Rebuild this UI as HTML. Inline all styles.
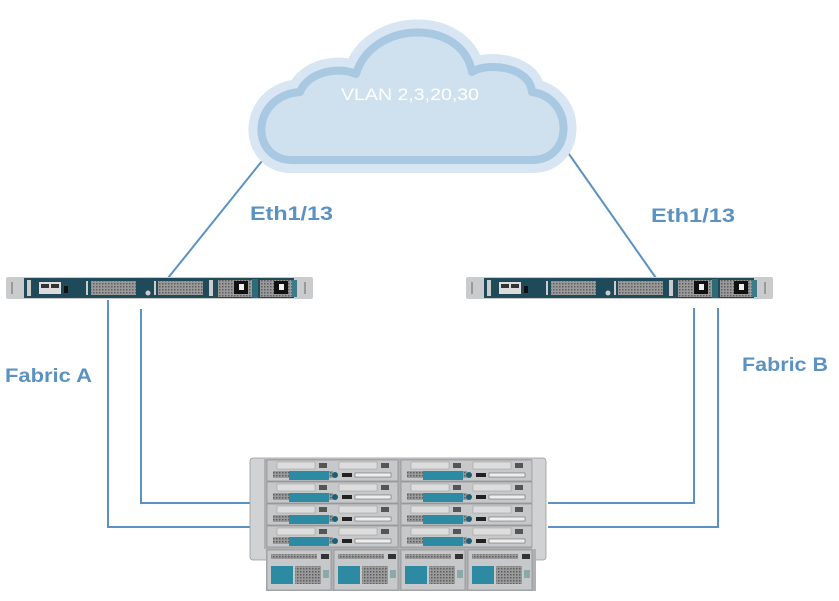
<!DOCTYPE html>
<html><head><meta charset="utf-8"><style>
html,body{margin:0;padding:0;background:#fff;}
svg{display:block;}
text{font-family:"Liberation Sans",sans-serif;}
</style></head><body>
<svg width="839" height="601" viewBox="0 0 839 601" xmlns="http://www.w3.org/2000/svg">
<defs>
<pattern id="mesh" width="3" height="3" patternUnits="userSpaceOnUse"><rect width="3" height="3" fill="#9a9a9a"/><rect width="1.5" height="1.5" fill="#5e5e5e"/></pattern>
<g id="sw">
  <rect x="0" y="0" width="307" height="22" rx="2" fill="#c9cbcc"/>
  <rect x="18" y="1" width="252" height="20" fill="#1e4a5a"/>
  <rect x="268" y="1" width="20" height="20" fill="#1e4a5a"/>
  <rect x="5" y="5" width="2" height="12" fill="#999"/><rect x="298" y="5" width="2" height="12" fill="#999"/>
  <rect x="21" y="3" width="4" height="16" fill="#ccc"/>
  <rect x="33" y="5" width="22" height="12" fill="#ddd"/>
  <rect x="35" y="7" width="8" height="4" fill="#333"/><rect x="45" y="7" width="8" height="4" fill="#333"/>
  <rect x="58" y="9" width="4" height="7" fill="#111"/>
  <rect x="80" y="4" width="2" height="14" fill="#ccc"/>
  <rect x="85" y="4" width="45" height="14" fill="url(#mesh)"/>
  <circle cx="142" cy="16" r="2.5" fill="#ccc"/>
  <rect x="148" y="4" width="2" height="14" fill="#ccc"/>
  <rect x="152" y="4" width="45" height="14" fill="url(#mesh)"/>
  <rect x="203" y="3" width="4" height="16" fill="#ccc"/>
  <rect x="212" y="3" width="34" height="17" fill="url(#mesh)"/>
  <rect x="228" y="4" width="14" height="13" fill="#111"/><rect x="233" y="7" width="5" height="6" fill="#eee"/>
  <rect x="246" y="2" width="6" height="19" fill="#2f6a78"/>
  <rect x="254" y="3" width="32" height="17" fill="url(#mesh)"/>
  <rect x="268" y="4" width="14" height="13" fill="#111"/><rect x="273" y="7" width="5" height="6" fill="#eee"/>
  <rect x="286" y="3" width="5" height="17" fill="#3d7b88"/>
</g>
<g id="blade">
  <rect x="0" y="0" width="131" height="21" fill="#c6c8ca" stroke="#888" stroke-width="0.6"/>
  <rect x="10" y="2" width="38" height="7" fill="#ddd" stroke="#999" stroke-width="0.5"/>
  <rect x="52" y="3" width="8" height="5" fill="#555"/>
  <rect x="72" y="2" width="38" height="7" fill="#ddd" stroke="#999" stroke-width="0.5"/>
  <rect x="114" y="3" width="8" height="5" fill="#555"/>
  <rect x="6" y="11" width="60" height="7" fill="url(#mesh)"/>
  <rect x="22" y="11" width="40" height="9" fill="#2d8aa3"/>
  <circle cx="68" cy="15" r="3" fill="#1c5f78"/>
  <rect x="75" y="13" width="10" height="4" fill="#222"/>
  <rect x="88" y="13" width="36" height="4" fill="#eee" stroke="#555" stroke-width="0.5"/>
</g>
<g id="psu">
  <rect x="0" y="0" width="64" height="40" fill="#c6c8ca" stroke="#888" stroke-width="0.6"/>
  <rect x="4" y="4" width="46" height="5" fill="url(#mesh)"/>
  <rect x="54" y="4" width="8" height="5" fill="#333"/>
  <rect x="4" y="16" width="22" height="18" fill="#2d8aa3"/>
  <rect x="28" y="16" width="26" height="18" fill="url(#mesh)"/>
  <rect x="56" y="20" width="6" height="8" fill="#8aa"/>
</g>
</defs>

<g stroke="#5b92c2" stroke-width="2" fill="none">
  <line x1="266" y1="156" x2="168" y2="278"/>
  <line x1="564" y1="147" x2="656" y2="278"/>
  <polyline points="108,300 108,527 252,527"/>
  <polyline points="141,309 141,503 252,503"/>
  <polyline points="694,308 694,503 548,503"/>
  <polyline points="718,308 718,527 548,527"/>
</g>

<g>
  <path d="M292 160 C250 160 250 96 300 92 C308 72 338 66 356 74 C372 20 462 18 472 72 C486 62 530 66 532 92 C574 98 574 160 532 160 Z" fill="#cfe1ee" stroke="#d7e6f2" stroke-width="26" stroke-linejoin="round"/>
  <path d="M292 160 C250 160 250 96 300 92 C308 72 338 66 356 74 C372 20 462 18 472 72 C486 62 530 66 532 92 C574 98 574 160 532 160 Z" fill="#cfe1ee" stroke="#a9c8e2" stroke-width="8" stroke-linejoin="round"/>
  <text x="341" y="100" font-size="17" fill="#ffffff" textLength="138" lengthAdjust="spacingAndGlyphs">VLAN 2,3,20,30</text>
</g>

<use href="#sw" x="6" y="277"/>
<use href="#sw" x="466" y="277"/>

<rect x="250" y="458" width="296" height="102" rx="3" fill="#d0d2d4" stroke="#999" stroke-width="0.8"/>
<rect x="264" y="459" width="268" height="90" fill="#aeb0b2"/>
<use href="#blade" x="267" y="460"/><use href="#blade" x="401" y="460"/>
<use href="#blade" x="267" y="482"/><use href="#blade" x="401" y="482"/>
<use href="#blade" x="267" y="504"/><use href="#blade" x="401" y="504"/>
<use href="#blade" x="267" y="526"/><use href="#blade" x="401" y="526"/>
<rect x="266" y="549" width="270" height="42" fill="#aeb0b2"/>
<use href="#psu" x="267" y="550"/><use href="#psu" x="334" y="550"/><use href="#psu" x="401" y="550"/><use href="#psu" x="468" y="550"/>

<g font-weight="bold" font-size="19" fill="#5b92c2">
  <text x="250" y="220" textLength="83" lengthAdjust="spacingAndGlyphs">Eth1/13</text>
  <text x="651" y="222" textLength="84" lengthAdjust="spacingAndGlyphs">Eth1/13</text>
  <text x="5" y="382" textLength="87" lengthAdjust="spacingAndGlyphs">Fabric A</text>
  <text x="742" y="371" textLength="86" lengthAdjust="spacingAndGlyphs">Fabric B</text>
</g>
</svg>
</body></html>
